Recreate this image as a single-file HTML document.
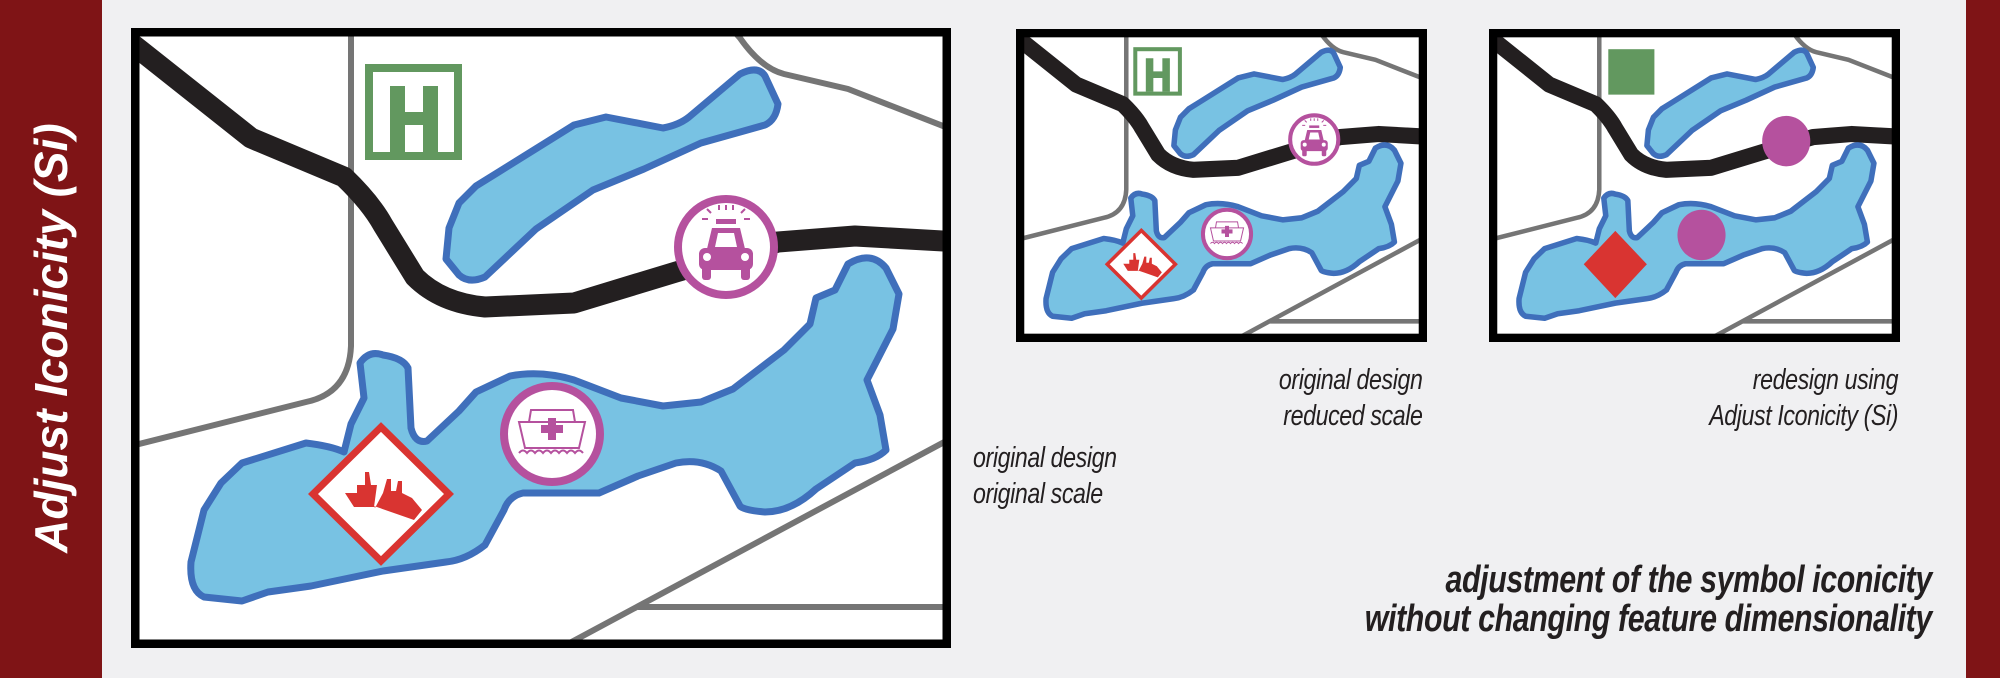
<!DOCTYPE html>
<html><head><meta charset="utf-8"><style>
html,body{margin:0;padding:0}
body{width:2000px;height:678px;background:#f0f0f2;position:relative;overflow:hidden;font-family:"Liberation Sans",sans-serif}
.bar{position:absolute;top:0;height:678px;background:#7f1416}
svg{position:absolute}
.cap{position:absolute;font-style:italic;font-size:29px;color:#231f20;line-height:36px;letter-spacing:-0.5px;white-space:nowrap}
.r{text-align:right}
</style></head><body>
<div class="bar" style="left:0;width:102px"></div>
<div class="bar" style="left:1966px;width:34px"></div>
<div style="position:absolute;left:51px;top:338px;transform:translate(-50%,-50%) rotate(-90deg);white-space:nowrap;color:#fff;font-weight:bold;font-style:italic;font-size:46px;">Adjust Iconicity (Si)</div>

<svg width="0" height="0" style="position:absolute">
<defs>
<clipPath id="cl"><rect x="8" y="8" width="804" height="604"/></clipPath>
<path id="road" d="M0,15 L9,22 L120,110 L213,149 Q240,175 252,197 L284,249 Q310,275 354,279 L443,275 L545,244 L647,214 L724,208 L830,214"/>
<path id="g1" d="M220,0 L220,318 Q218,365 175,374 L0,418"/>
<path id="g2" d="M600,0 L609,10 Q630,40 653,46 L717,61 L830,105"/>
<path id="g3" d="M420,625 L830,405 M507,579 L830,579"/>
<path id="lake1" d="M315,231 L318,200 L328,175 L345,158 L366,145 L443,97 L475,89 L532,100 Q548,97 558,89 L609,46 Q627,37 634,48 L647,76 Q645,92 634,97 L570,115 L513,141 L462,162 L405,201 L354,249 Q338,256 328,247 Z"/>
<path id="lake2" d="M60,534 L73,482 L90,455 L111,435 L175,415 Q200,418 213,424 L220,396 L233,370 L229,335 Q238,322 252,327 Q272,330 277,340 L280,400 Q284,416 296,413 L328,383 L345,364 L379,348 Q410,342 443,352 L490,370 L532,378 L570,374 L602,361 L653,322 L679,296 L685,270 L704,262 L717,236 Q740,222 755,240 L768,266 L762,301 L736,352 L749,387 L755,422 Q745,432 724,435 L685,461 Q660,484 634,484 Q612,482 609,478 L590,443 Q570,430 545,435 L507,448 L468,465 L392,465 Q378,468 373,482 L354,517 Q335,532 315,534 L252,543 L180,558 L137,564 L111,573 L73,569 Q58,562 60,534 Z"/>
<g id="hsign"><rect x="238" y="40" width="89" height="88" fill="#fff" stroke="#62985f" stroke-width="8"/><path d="M259,58 h15 v26 h18 v-26 h15 v66 h-15 v-27 h-18 v27 h-15 z" fill="#62985f"/></g>
<g id="police">
<circle cx="595" cy="219" r="48" fill="#fff" stroke="#b5519e" stroke-width="8"/>
<g fill="#b5519e" stroke="#b5519e">
<rect x="585" y="191" width="20" height="5" stroke="none"/>
<path d="M580,185 l-4,-4 M588,182 v-5 M595,182 v-5 M602,182 v-5 M610,185 l4,-4 M577,191 h-6 M613,191 h6" stroke-width="2" fill="none"/>
<path d="M575,225 L581,200 H609 L615,225 Z" stroke="none"/>
<rect x="568" y="220" width="54" height="22" rx="6" stroke="none"/>
<rect x="571" y="238" width="9" height="14" rx="3" stroke="none"/>
<rect x="610" y="238" width="9" height="14" rx="3" stroke="none"/>
</g>
<path d="M584,219 L587,205 H603 L606,219 Z" fill="#fff"/>
<circle cx="576" cy="229" r="4" fill="#fff"/><circle cx="614" cy="229" r="4" fill="#fff"/>
</g>
<g id="boat">
<circle cx="421" cy="406" r="48" fill="#fff" stroke="#b5519e" stroke-width="8"/>
<path d="M388,394 h66 l-6,26 h-54 z M398,394 l2,-12 h42 l2,12" fill="none" stroke="#b5519e" stroke-width="2"/>
<path d="M417,390 h8 v7 h7 v8 h-7 v7 h-8 v-7 h-7 v-8 h7 z" fill="#b5519e"/>
<path d="M388,425 q4,-5 8,0 q4,-5 8,0 q4,-5 8,0 q4,-5 8,0 q4,-5 8,0 q4,-5 8,0 q4,-5 8,0 q4,-5 8,0" fill="none" stroke="#b5519e" stroke-width="2"/>
</g>
<g id="ship">
<path d="M250,399 L318,466 L250,533 L182,466 Z" fill="#fff" stroke="#d93431" stroke-width="7"/>
<path d="M214,465 h12 v-8 h8 v-13 h4 l2,13 h6 l-3,22 h-20 z M244,480 l8,-15 l4,-14 h4 l0,12 l5,0 l2,-10 h4 l0,12 l10,5 l10,12 l-8,10 l-40,-14 z" fill="#d93431"/>
</g>
</defs></svg>

<svg style="left:131px;top:28px" width="820" height="620" viewBox="0 0 820 620">
<rect x="0" y="0" width="820" height="620" fill="#fff"/>
<g clip-path="url(#cl)">
<g fill="none" stroke="#757575" stroke-width="6"><use href="#g1"/><use href="#g2"/><use href="#g3"/></g>
<use href="#road" fill="none" stroke="#231f20" stroke-width="21" stroke-linejoin="round"/>
<g fill="#78c2e3" stroke="#3f6fbb" stroke-width="7" stroke-linejoin="round"><use href="#lake1"/><use href="#lake2"/></g>
<use href="#hsign"/><use href="#police"/><use href="#boat"/><use href="#ship"/>
</g>
<rect x="4" y="4" width="812" height="612" fill="none" stroke="#000" stroke-width="9"/>
</svg>

<svg style="left:1016px;top:29px" width="411" height="313" viewBox="0 0 820 620" preserveAspectRatio="none">
<rect x="0" y="0" width="820" height="620" fill="#fff"/>
<g clip-path="url(#cl)">
<g fill="none" stroke="#757575" stroke-width="9"><use href="#g1"/><use href="#g2"/><use href="#g3"/></g>
<use href="#road" fill="none" stroke="#231f20" stroke-width="32" stroke-linejoin="round"/>
<g fill="#78c2e3" stroke="#3f6fbb" stroke-width="11" stroke-linejoin="round"><use href="#lake1"/><use href="#lake2"/></g>
<use href="#hsign"/><use href="#police"/><use href="#boat"/><use href="#ship"/>
</g>
<rect x="8" y="8" width="804" height="604" fill="none" stroke="#000" stroke-width="17"/>
</svg>

<svg style="left:1489px;top:29px" width="411" height="313" viewBox="0 0 820 620" preserveAspectRatio="none">
<rect x="0" y="0" width="820" height="620" fill="#fff"/>
<g clip-path="url(#cl)">
<g fill="none" stroke="#757575" stroke-width="9"><use href="#g1"/><use href="#g2"/><use href="#g3"/></g>
<use href="#road" fill="none" stroke="#231f20" stroke-width="32" stroke-linejoin="round"/>
<g fill="#78c2e3" stroke="#3f6fbb" stroke-width="11" stroke-linejoin="round"><use href="#lake1"/><use href="#lake2"/></g>
<rect x="238" y="40" width="92" height="90" fill="#62985f"/>
<ellipse cx="593" cy="222" rx="48" ry="50" fill="#b5519e"/>
<ellipse cx="424" cy="408" rx="48" ry="50" fill="#b5519e"/>
<path d="M252,400 L315,466 L252,533 L189,466 Z" fill="#d93431"/>
</g>
<rect x="8" y="8" width="804" height="604" fill="none" stroke="#000" stroke-width="17"/>
</svg>

<div class="cap" style="left:973px;top:440px;transform:scaleX(0.8);transform-origin:left top">original design<br>original scale</div>
<div class="cap r" style="right:577px;top:362px;transform:scaleX(0.8);transform-origin:right top">original design<br>reduced scale</div>
<div class="cap r" style="right:102px;top:362px;transform:scaleX(0.8);transform-origin:right top">redesign using<br>Adjust Iconicity (Si)</div>
<div class="r" style="position:absolute;right:68px;top:561px;font-weight:bold;font-style:italic;font-size:38px;line-height:39px;color:#231f20;letter-spacing:-0.5px;white-space:nowrap;transform:scaleX(0.8);transform-origin:right top">adjustment of the symbol iconicity<br>without changing feature dimensionality</div>
</body></html>
